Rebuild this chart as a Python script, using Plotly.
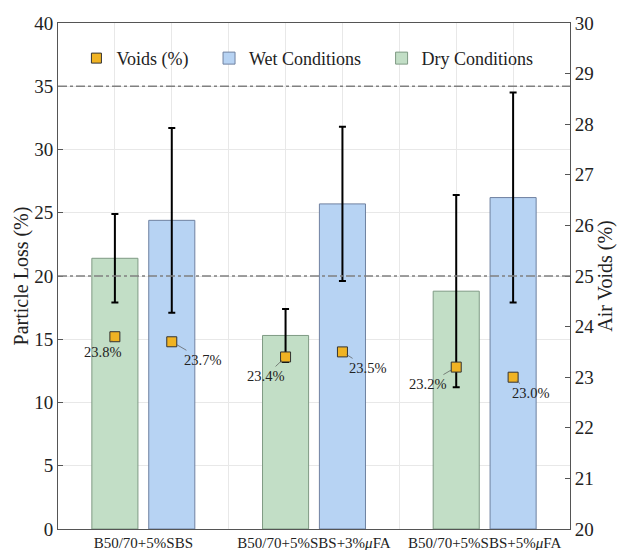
import plotly.graph_objects as go
import numpy as np

# Mix designs (x categories)
mixes = ["B50/70+5%SBS", "B50/70+5%SBS+3%<i>μ</i>FA", "B50/70+5%SBS+5%<i>μ</i>FA"]

# Particle loss (%) and standard deviations
dry_loss = [21.4, 15.3, 18.8]
dry_err = [3.5, 2.1, 7.6]
wet_loss = [24.4, 25.7, 26.2]
wet_err = [7.3, 6.1, 8.3]

# Air voids (%) of the dry / wet specimens
dry_voids = [23.8, 23.4, 23.2]
wet_voids = [23.7, 23.5, 23.0]

# Reference limits on particle loss
limits = [20, 35]

FONT = "Liberation Serif"
GREEN, GREEN_EDGE = "#c2dec6", "#7f9a84"
BLUE, BLUE_EDGE = "#b7d3f3", "#6f81a0"
ORANGE = "#f0b323"

idx = np.arange(len(mixes))
half = 1 / 6
x_dry = idx - half
x_wet = idx + half
bw = 0.27

fig = go.Figure()

fig.add_trace(go.Bar(
    x=x_dry, y=dry_loss, width=bw, name="Dry Conditions", legend="legend3",
    marker=dict(color=GREEN, line=dict(color=GREEN_EDGE, width=1)),
    error_y=dict(type="data", array=dry_err, color="black", thickness=2, width=3.5),
))
fig.add_trace(go.Bar(
    x=x_wet, y=wet_loss, width=bw, name="Wet Conditions", legend="legend2",
    marker=dict(color=BLUE, line=dict(color=BLUE_EDGE, width=1)),
    error_y=dict(type="data", array=wet_err, color="black", thickness=2, width=3.5),
))

vx = np.concatenate([x_dry, x_wet])
vy = dry_voids + wet_voids
fig.add_trace(go.Scatter(
    x=vx, y=vy, yaxis="y2", mode="markers", name="Voids (%)", legend="legend",
    marker=dict(symbol="square", size=10, color=ORANGE, line=dict(color="#333333", width=1)),
))

# value labels for the voids markers with short leader lines
offsets = [(-12, 15), (-20, 19), (-29, 17), (31, 18), (25, 16), (17, 16)]
for (px, py), xv, yv in zip(offsets, vx, vy):
    fig.add_annotation(
        x=xv, y=yv, xref="x", yref="y2", text=f"{yv:.1f}%",
        showarrow=True, arrowhead=0, arrowwidth=0.7, arrowcolor="#555555",
        ax=px, ay=py, standoff=5,
        font=dict(family=FONT, size=14.5, color="#222222"),
    )

for lv in limits:
    fig.add_shape(type="line", xref="paper", x0=0, x1=1, yref="y", y0=lv, y1=lv,
                  line=dict(color="#808080", width=1.5, dash="dashdot"), layer="above")

axis_font = dict(family=FONT, size=19, color="#222222")
leg_common = dict(orientation="h", yanchor="middle", y=0.93, xanchor="left",
                  bgcolor="rgba(0,0,0,0)", borderwidth=0,
                  font=dict(family=FONT, size=18, color="#222222"))

fig.update_layout(
    width=621, height=550,
    margin=dict(l=57.5, r=51, t=22.7, b=21.3),
    plot_bgcolor="white", paper_bgcolor="white",
    showlegend=True,
    legend=dict(x=0.036, **leg_common),
    legend2=dict(x=0.295, **leg_common),
    legend3=dict(x=0.632, **leg_common),
    xaxis=dict(
        range=[-0.5, 2.5], tickmode="array", tickvals=idx, ticktext=mixes,
        showgrid=False, zeroline=False, ticks="",
        tickfont=dict(family=FONT, size=15, color="#222222"),
        showline=True, linecolor="#555555", linewidth=1, mirror=True,
        minor=dict(tick0=half, dtick=1 / 3, showgrid=True, gridcolor="#e8e8e8", gridwidth=1),
        automargin=False,
    ),
    yaxis=dict(
        range=[0, 40], dtick=5, ticks="inside", ticklen=5, tickcolor="#555555",
        showgrid=True, gridcolor="#e8e8e8", zeroline=False,
        showline=True, linecolor="#555555", linewidth=1,
        tickfont=axis_font,
        title=dict(text="Particle Loss (%)", font=dict(family=FONT, size=20, color="#222222"), standoff=0),
        automargin=False,
    ),
    yaxis2=dict(
        range=[20, 30], dtick=1, overlaying="y", side="right",
        ticks="inside", ticklen=5, tickcolor="#555555",
        showgrid=False, zeroline=False,
        showline=True, linecolor="#555555", linewidth=1,
        tickfont=axis_font,
        title=dict(text="Air Voids (%)", font=dict(family=FONT, size=20, color="#222222"), standoff=2),
        automargin=False,
    ),
)

fig.write_html("out.html")
